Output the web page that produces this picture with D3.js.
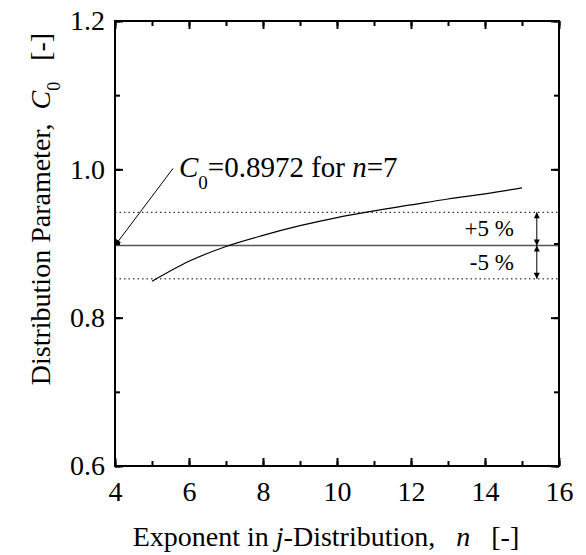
<!DOCTYPE html>
<html>
<head>
<meta charset="utf-8">
<script src="https://cdn.jsdelivr.net/npm/d3@7"></script>
<style>
  body { margin: 0; background: #fff; }
  svg text { font-family: "Liberation Serif", "Times New Roman", serif; fill: #000; }
</style>
</head>
<body>
<div id="chart"></div>
<script>
// exponent n and computed distribution parameter C0
const nValues = [5, 6, 7, 8, 9, 10, 11, 12, 13, 14, 15];
const c0Values = [0.849, 0.876, 0.896, 0.911, 0.924, 0.935, 0.944, 0.952, 0.960, 0.967, 0.975];
const refN = 7;
const refC0 = 0.8972;
const bandPct = 0.05;
const bandArrowN = 15.4;
const xTicks = [4, 6, 8, 10, 12, 14, 16];
const yTicks = [0.6, 0.8, 1.0, 1.2];

const serif = "Liberation Serif, Times New Roman, serif";
const width = 586;
const height = 555;
const margin = { top: 21, right: 27, bottom: 89, left: 115 };
const w = width - margin.left - margin.right;
const h = height - margin.top - margin.bottom;

const svg = d3.select("#chart")
  .append("svg")
  .attr("width", width)
  .attr("height", height)
  .attr("font-family", serif);

const defs = svg.append("defs");
defs.append("marker")
  .attr("id", "head")
  .attr("viewBox", "0 0 10 10")
  .attr("refX", 10)
  .attr("refY", 5)
  .attr("markerUnits", "userSpaceOnUse")
  .attr("markerWidth", 9)
  .attr("markerHeight", 6)
  .attr("orient", "auto-start-reverse")
  .append("path")
  .attr("d", "M0,0L10,5L0,10Z")
  .attr("fill", "#000");

const g = svg.append("g")
  .attr("transform", `translate(${margin.left},${margin.top})`);

const x = d3.scaleLinear().domain([4, 16]).range([0, w]);
const y = d3.scaleLinear().domain([0.6, 1.2]).range([h, 0]);

// reference lines
const hLine = (v) => g.append("line")
  .attr("x1", 0).attr("x2", w)
  .attr("y1", y(v)).attr("y2", y(v));

hLine(refC0).attr("stroke", "#555").attr("stroke-width", 1.5);
hLine(refC0 * (1 + bandPct)).attr("stroke", "#000").attr("stroke-width", 1).attr("stroke-dasharray", "1.5,3");
hLine(refC0 * (1 - bandPct)).attr("stroke", "#000").attr("stroke-width", 1).attr("stroke-dasharray", "1.5,3");

// curve
const line = d3.line()
  .x((d, i) => x(nValues[i]))
  .y(d => y(d))
  .curve(d3.curveMonotoneX);
g.append("path")
  .datum(c0Values)
  .attr("d", line)
  .attr("fill", "none")
  .attr("stroke", "#000")
  .attr("stroke-width", 1.2);

// +/-5 % arrows
[[refC0 * (1 + bandPct), refC0], [refC0 * (1 - bandPct), refC0]].forEach(([a, b]) => {
  g.append("line")
    .attr("x1", x(bandArrowN)).attr("x2", x(bandArrowN))
    .attr("y1", y(a)).attr("y2", y(b))
    .attr("stroke", "#000")
    .attr("stroke-width", 1)
    .attr("marker-start", "url(#head)")
    .attr("marker-end", "url(#head)");
});
g.append("text")
  .attr("x", x(bandArrowN) - 23).attr("y", y(refC0) - 10)
  .attr("text-anchor", "end")
  .style("font-size", "23px")
  .text("+5 %");
g.append("text")
  .attr("x", x(bandArrowN) - 23).attr("y", y(refC0) + 24)
  .attr("text-anchor", "end")
  .style("font-size", "23px")
  .text("-5 %");

// annotation
g.append("line")
  .attr("x1", x(5.57)).attr("y1", y(1.0) - 1)
  .attr("x2", x(4)).attr("y2", y(refC0))
  .attr("stroke", "#000")
  .attr("stroke-width", 1)
  .attr("marker-end", "url(#head)");
const ann = g.append("text")
  .attr("x", x(5.73)).attr("y", y(1.0) + 8)
  .style("font-size", "29px");
ann.append("tspan").style("font-style", "italic").text("C");
ann.append("tspan").attr("dy", 12).style("font-size", "19px").text("0");
ann.append("tspan").attr("dy", -12).text(`=${refC0} for `);
ann.append("tspan").style("font-style", "italic").text("n");
ann.append("tspan").text(`=${refN}`);

// axes, ticks inward on all four sides
const minorX = d3.range(4, 16.01, 1);
const minorY = d3.range(0.6, 1.201, 0.1);
function styleAxis(sel) {
  sel.attr("font-family", serif);
  sel.select(".domain").remove();
  sel.selectAll("line").attr("stroke", "#000").attr("stroke-width", 2);
  sel.selectAll("text").style("font-size", "28px").attr("fill", "#000");
}
g.append("g").attr("transform", `translate(0,${h})`)
  .call(d3.axisBottom(x).tickValues(minorX).tickSize(-5).tickFormat(""))
  .call(styleAxis);
g.append("g").attr("transform", `translate(0,${h})`)
  .call(d3.axisBottom(x).tickValues(xTicks).tickSize(-8).tickPadding(15).tickFormat(d3.format("d")))
  .call(styleAxis);
g.append("g")
  .call(d3.axisTop(x).tickValues(minorX).tickSize(-5).tickFormat(""))
  .call(styleAxis);
g.append("g")
  .call(d3.axisTop(x).tickValues(xTicks).tickSize(-8).tickFormat(""))
  .call(styleAxis);
g.append("g")
  .call(d3.axisLeft(y).tickValues(minorY).tickSize(-5).tickFormat(""))
  .call(styleAxis);
g.append("g")
  .call(d3.axisLeft(y).tickValues(yTicks).tickSize(-8).tickPadding(10).tickFormat(d3.format(".1f")))
  .call(styleAxis);
g.append("g").attr("transform", `translate(${w},0)`)
  .call(d3.axisRight(y).tickValues(minorY).tickSize(-5).tickFormat(""))
  .call(styleAxis);
g.append("g").attr("transform", `translate(${w},0)`)
  .call(d3.axisRight(y).tickValues(yTicks).tickSize(-8).tickFormat(""))
  .call(styleAxis);

g.append("rect")
  .attr("width", w).attr("height", h)
  .attr("fill", "none")
  .attr("stroke", "#000")
  .attr("stroke-width", 2);

// axis titles
const xt = svg.append("text")
  .attr("x", 326)
  .attr("y", 546)
  .attr("text-anchor", "middle")
  .style("font-size", "28px")
  .style("white-space", "pre");
xt.append("tspan").text("Exponent in ");
xt.append("tspan").style("font-style", "italic").text("j");
xt.append("tspan").text("-Distribution,   ");
xt.append("tspan").style("font-style", "italic").text("n");
xt.append("tspan").text("   [-]");

const yt = svg.append("text")
  .attr("transform", `translate(50,${margin.top + 188}) rotate(-90)`)
  .attr("text-anchor", "middle")
  .style("font-size", "28px")
  .style("white-space", "pre");
yt.append("tspan").text("Distribution Parameter,  ");
yt.append("tspan").style("font-style", "italic").text("C");
yt.append("tspan").attr("dy", 10).style("font-size", "18px").text("0");
yt.append("tspan").attr("dy", -10).text("   [-]");
</script>
</body>
</html>
